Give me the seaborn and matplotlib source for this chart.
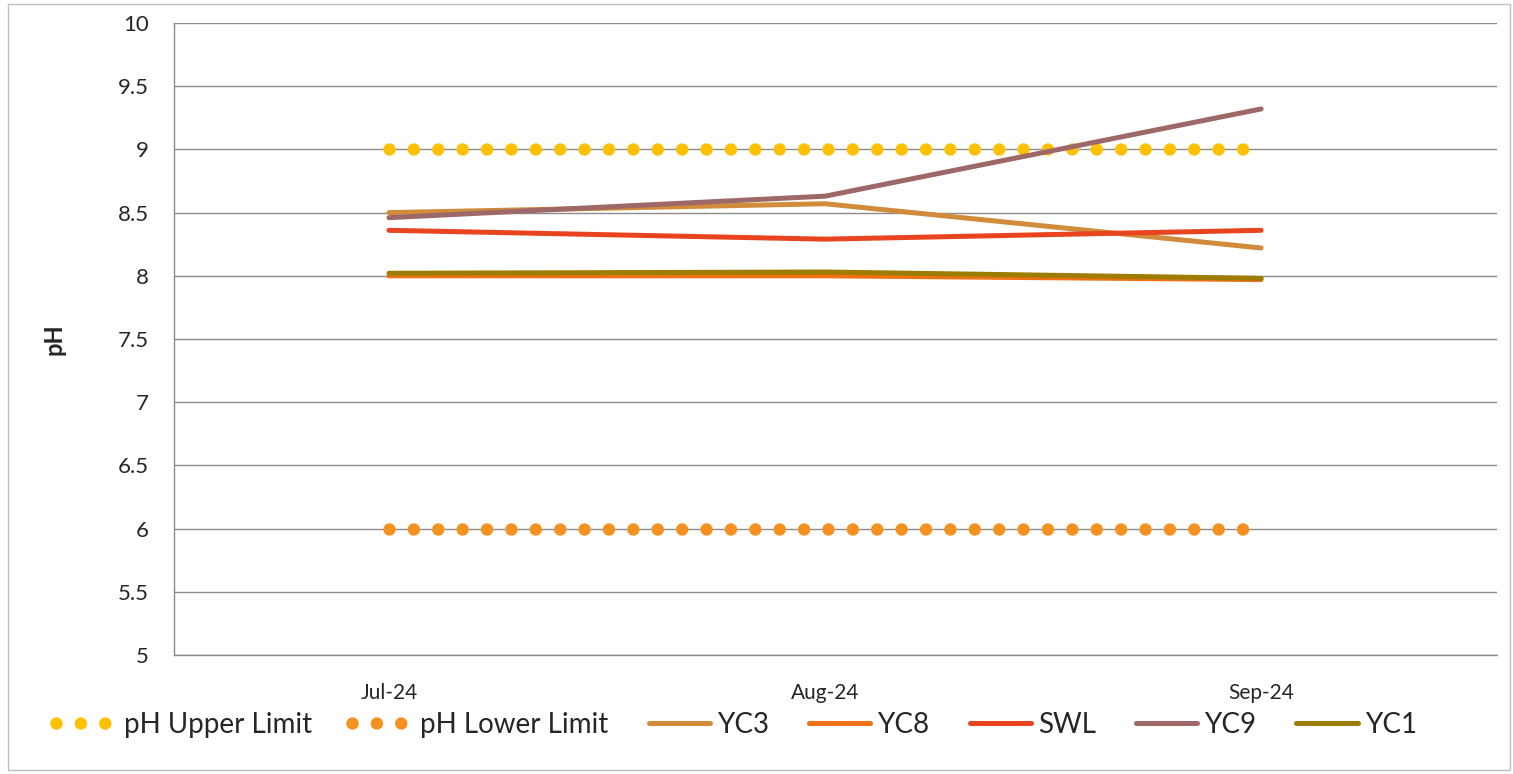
import matplotlib
matplotlib.use('Agg')
import matplotlib.pyplot as plt
import seaborn as sns
from matplotlib.patches import Rectangle

# months on the category axis
months = ['Jul-24', 'Aug-24', 'Sep-24']

# guideline limits
upper_limit = [9, 9, 9]
lower_limit = [6, 6, 6]

# monitoring sites
yc3 = [8.50, 8.57, 8.22]
yc8 = [8.00, 8.00, 7.97]
swl = [8.36, 8.29, 8.36]
yc9 = [8.46, 8.63, 9.32]
yc1 = [8.02, 8.03, 7.98]

sns.set_style('white')
plt.rcParams['font.family'] = ['Lato', 'DejaVu Sans']

fig = plt.figure(figsize=(15.13, 7.74), dpi=100)
ax = fig.add_axes([174 / 1513, 1 - 655 / 774, (1497 - 174) / 1513, (655 - 23) / 774])

x = list(range(len(months)))

# dotted limit lines
dots = (0, (0.001, 1.95))
sns.lineplot(x=x, y=upper_limit, ax=ax, color='#FFC000', lw=9,
             linestyle=dots, dash_capstyle='round', label='pH Upper Limit')
sns.lineplot(x=x, y=lower_limit, ax=ax, color='#F59120', lw=9,
             linestyle=dots, dash_capstyle='round', label='pH Lower Limit')

# site lines
series = [('YC3', yc3, '#D08C3A'), ('YC8', yc8, '#EE7213'),
          ('SWL', swl, '#E84420'), ('YC9', yc9, '#9E6868'),
          ('YC1', yc1, '#9E7C00')]
for name, vals, col in series:
    sns.lineplot(x=x, y=vals, ax=ax, color=col, lw=3.6,
                 solid_capstyle='round', label=name)

ax.set_xlim(-0.493, 2.541)
ax.set_ylim(5, 10)
ax.set_yticks([5, 5.5, 6, 6.5, 7, 7.5, 8, 8.5, 9, 9.5, 10])
ax.set_yticklabels(['5', '5.5', '6', '6.5', '7', '7.5', '8', '8.5', '9', '9.5', '10'])
ax.set_xticks(x)
ax.set_xticklabels(months)
ax.tick_params(axis='x', length=0, pad=20, labelsize=15)
ax.tick_params(axis='y', length=0, pad=18, labelsize=16)
ax.yaxis.grid(True, color='#8c8c8c', lw=1)
ax.set_axisbelow(True)
for s in ['top', 'right']:
    ax.spines[s].set_visible(False)
for s in ['left', 'bottom']:
    ax.spines[s].set_color('#8c8c8c')
    ax.spines[s].set_linewidth(1)

ax.set_ylabel('pH', fontsize=17, fontweight='bold', labelpad=38)

handles, labels = ax.get_legend_handles_labels()
leg = ax.legend(handles, labels, loc='center', bbox_to_anchor=(0.425, -0.11),
                ncol=7, frameon=False, fontsize=20, handlelength=2.2,
                handletextpad=0.25, columnspacing=1.45)

# chart border
fig.patches.append(Rectangle((8 / 1513, 0.005), (1510 - 8) / 1513, 0.99,
                             transform=fig.transFigure, fill=False,
                             edgecolor='#bfbfbf', lw=1))

fig.savefig('out.png', dpi=100)
